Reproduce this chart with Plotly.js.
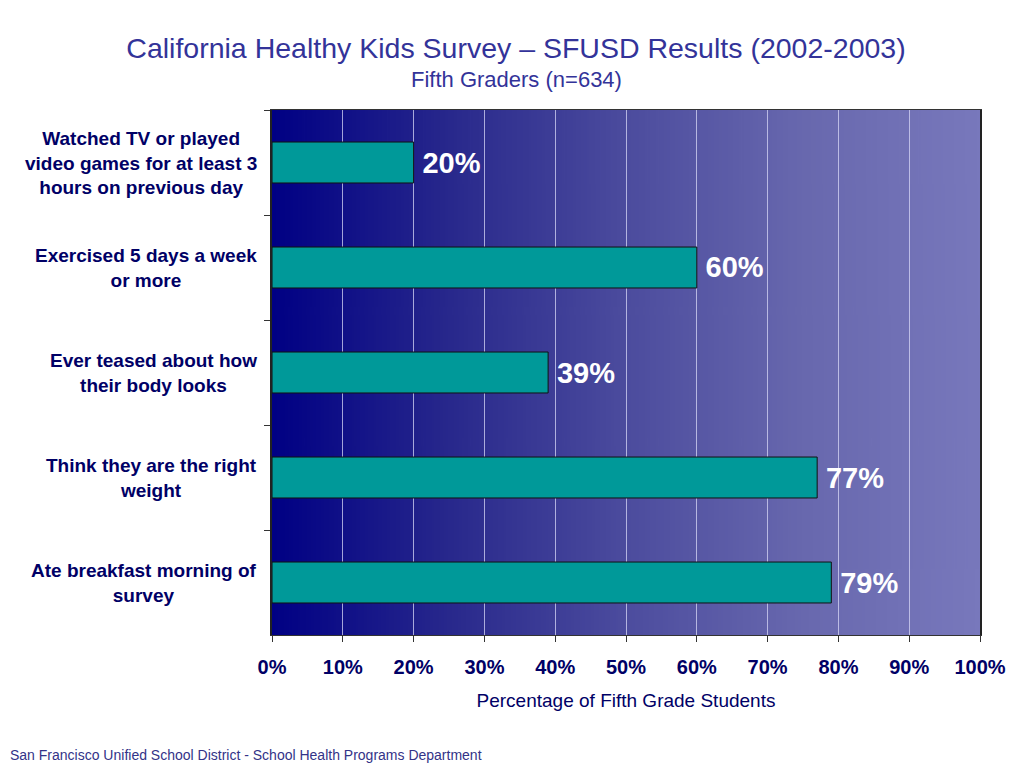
<!DOCTYPE html>
<html>
<head>
<meta charset="utf-8">
<script src="https://cdn.plot.ly/plotly-3.0.1.min.js"></script>
<style>html,body{margin:0;padding:0;background:#fff;}#chart{width:1024px;height:768px;}</style>
</head>
<body>
<div id="chart"></div>
<script>
// ---- data ----
const categories = [
  "Watched TV or played<br>video games for at least 3<br>hours on previous day",
  "Exercised 5 days a week<br>or more",
  "Ever teased about how<br>their body looks",
  "Think they are the right<br>weight",
  "Ate breakfast morning of<br>survey"
];
const percentages = [20, 60, 39, 77, 79];
const xTickValues = [0, 10, 20, 30, 40, 50, 60, 70, 80, 90, 100];
const xTickLabels = ["0%", "10%", "20%", "30%", "40%", "50%", "60%", "70%", "80%", "90%", "100%"];
const titleText = "California Healthy Kids Survey \u2013 SFUSD Results (2002-2003)";
const subtitleText = "Fifth Graders (n=634)";
const xTitleText = "Percentage of Fifth Grade Students";
const footerText = "San Francisco Unified School District - School Health Programs Department";

// ---- gradient background image ----
function gradientURI() {
  const c = document.createElement('canvas');
  c.width = 512; c.height = 4;
  const g = c.getContext('2d');
  const grd = g.createLinearGradient(0, 0, 512, 0);
  grd.addColorStop(0, 'rgb(0,0,132)');
  grd.addColorStop(0.25, 'rgb(40,40,140)');
  grd.addColorStop(0.5, 'rgb(76,76,158)');
  grd.addColorStop(0.75, 'rgb(104,104,174)');
  grd.addColorStop(1, 'rgb(120,120,188)');
  g.fillStyle = grd;
  g.fillRect(0, 0, 512, 4);
  return c.toDataURL('image/png');
}

const font = "Liberation Sans, Arial, Helvetica, sans-serif";

const trace = {
  type: 'bar',
  orientation: 'h',
  y: categories,
  x: percentages,
  width: 0.39,
  marker: { color: '#009999', line: { color: '#111', width: 1 } },
  text: percentages.map(v => '\u2009' + v + '%'),
  textposition: 'outside',
  textfont: { family: font, size: 29, color: '#ffffff', weight: 'bold' },
  cliponaxis: false,
  hoverinfo: 'none'
};

const annotations = categories.map(c => ({
  xref: 'paper', yref: 'y', x: -0.018, y: c,
  xanchor: 'right', yanchor: 'middle', align: 'center',
  text: c, showarrow: false,
  font: { family: font, size: 19, color: '#000066', weight: 'bold' }
}));
annotations.push({
  xref: 'paper', yref: 'paper', x: (516 - 272) / 708, xanchor: 'center',
  y: (635 - 79) / 525, yanchor: 'middle',
  text: subtitleText, showarrow: false,
  font: { family: font, size: 22, color: '#333399' }
});
annotations.push({
  xref: 'paper', yref: 'paper', xanchor: 'left', yanchor: 'middle',
  x: (8 - 272) / 708, y: (635 - 755) / 525, text: footerText, showarrow: false,
  font: { family: font, size: 14, color: '#333388' }
});

const layout = {
  width: 1024, height: 768,
  margin: { l: 272, r: 44, t: 110, b: 133 },
  paper_bgcolor: '#ffffff',
  plot_bgcolor: 'rgba(0,0,0,0)',
  showlegend: false,
  title: {
    text: titleText, x: 516 / 1024, xref: 'container', xanchor: 'center',
    y: 1 - 48 / 768, yref: 'container', yanchor: 'middle',
    font: { family: font, size: 28.5, color: '#333399' }
  },
  xaxis: {
    range: [0, 100],
    tickvals: xTickValues, ticktext: xTickLabels,
    ticks: 'outside', ticklen: 6, tickcolor: '#333',
    ticklabelstandoff: 8,
    tickfont: { family: font, size: 20, color: '#000066', weight: 'bold' },
    showgrid: true, gridcolor: 'rgba(215,215,245,0.75)', gridwidth: 1,
    showline: true, linecolor: '#333', linewidth: 1, mirror: true,
    zeroline: false,
    title: { text: xTitleText, standoff: 16, font: { family: font, size: 19, color: '#000066' } },
    fixedrange: true
  },
  yaxis: {
    type: 'category', autorange: 'reversed',
    showticklabels: false,
    ticks: 'outside', tickson: 'boundaries', ticklen: 6, tickcolor: '#333',
    showgrid: false, zeroline: false,
    showline: true, linecolor: '#222', linewidth: 2, mirror: true,
    fixedrange: true
  },
  images: [{
    source: gradientURI(), xref: 'x domain', yref: 'y domain',
    x: 0, y: 1, sizex: 1, sizey: 1, xanchor: 'left', yanchor: 'top',
    sizing: 'stretch', layer: 'below', opacity: 1
  }],
  annotations: annotations
};

Plotly.newPlot('chart', [trace], layout, { staticPlot: true, displayModeBar: false });
</script>
</body>
</html>
